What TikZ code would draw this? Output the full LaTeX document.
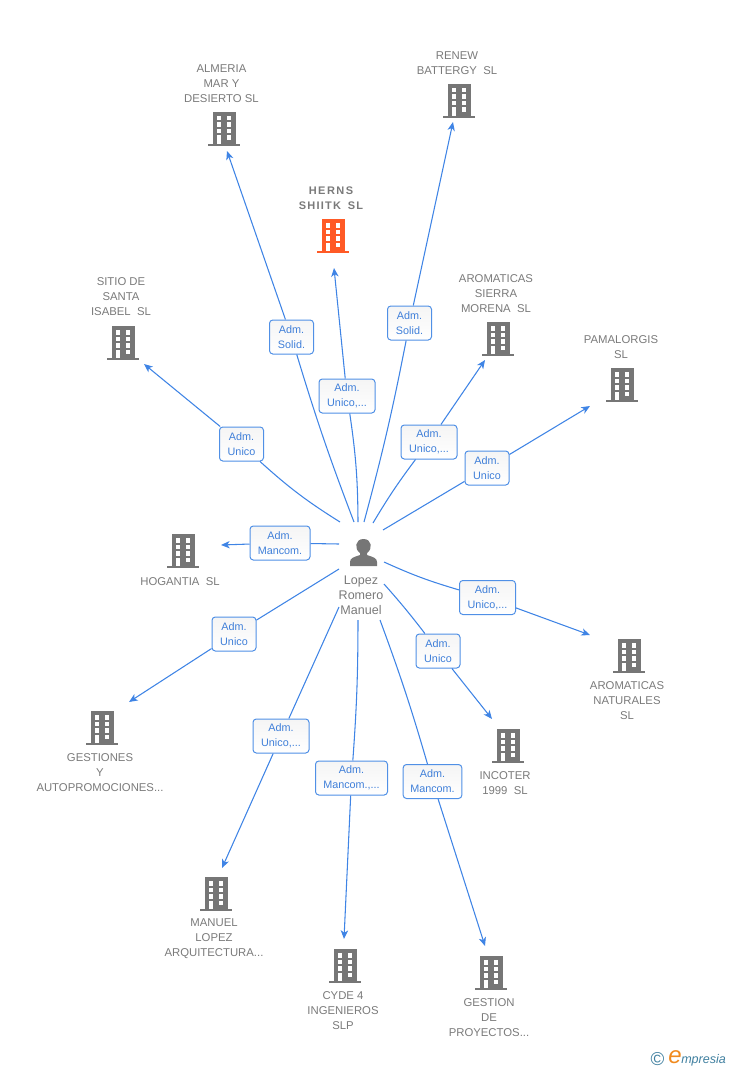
\documentclass[tikz,border=0pt]{standalone}
\usepackage{fontspec}
\setmainfont{Liberation Sans}
\usetikzlibrary{arrows.meta}
\definecolor{bgrey}{HTML}{767676}
\definecolor{tgrey}{HTML}{7A7A7A}
\definecolor{orng}{HTML}{FF5A26}
\definecolor{eblue}{HTML}{3F84E5}
\definecolor{ltxt}{HTML}{3F7FD9}
\definecolor{bbord}{HTML}{5090E6}
\definecolor{lgteal}{HTML}{3F7F9F}
\definecolor{lgor}{HTML}{F08A1E}
\tikzset{
  x=0.75pt,y=-0.75pt,
  bldbox/.style={inner sep=0pt,minimum width=24pt,minimum height=25.5pt},
  lab/.style={font=\fontsize{8.5pt}{11.25pt}\selectfont,text=tgrey,align=center,inner sep=0pt},
  adm/.style={draw=bbord,line width=0.75pt,rounded corners=2.5pt,top color=gray!8,bottom color=white,
    font=\fontsize{8.1pt}{11.25pt}\selectfont,text=ltxt,align=center,inner sep=0pt,minimum height=25.5pt},
  edge/.style={draw=eblue,line width=0.8pt},
  arr/.style={edge,-{Stealth[length=6.5pt,width=5.5pt,inset=1.8pt]}},
}
\newcommand{\bld}[4]{%
  \node[bldbox] (#1) at (#2,#3) {};
  \begin{scope}[shift={(#2,#3)}]
    \fill[#4] (-11.5,-17) rectangle (11.5,15);
    \fill[#4] (-16,15) rectangle (16,17);
    \foreach \yy in {-13,-6.5,0}{
      \fill[white] (-7.5,\yy) rectangle (-3,\yy+4.5);
      \fill[white] (2.5,\yy) rectangle (7,\yy+4.5);
    }
    \fill[white] (-7.5,6.5) rectangle (-3,15);
    \fill[white] (2.5,6.5) rectangle (7,11);
  \end{scope}}
\begin{document}
\begin{tikzpicture}
\useasboundingbox (0,0) rectangle (728,1070);
% buildings
\bld{almeria}{224}{129}{bgrey}
\bld{renew}{459}{101}{bgrey}
\bld{herns}{333}{236}{orng}
\bld{sitio}{123}{343}{bgrey}
\bld{sierra}{498}{339}{bgrey}
\bld{pamal}{622}{385}{bgrey}
\bld{hogan}{183}{551}{bgrey}
\bld{gesti}{102}{728}{bgrey}
\bld{manuel}{216}{894}{bgrey}
\bld{cyde}{345}{966}{bgrey}
\bld{gestp}{491}{973}{bgrey}
\bld{incot}{508}{746}{bgrey}
\bld{natur}{629}{656}{bgrey}
% building labels
\node[lab] (talmeria) at (221.5,84) {ALMERIA\\MAR Y\\DESIERTO SL};
\node[lab] (trenew) at (457,63.5) {RENEW\\BATTERGY\ \ SL};
\node[lab,font=\fontsize{8.25pt}{11.25pt}\selectfont\bfseries] (therns) at (331,198) {H\kern1.1pt E\kern1.1pt R\kern1.1pt N\kern1.1pt S\\S\kern.9pt H\kern.9pt I\kern.9pt I\kern.9pt T\kern.9pt K\ \ \kern.5pt S\kern.9pt L};
\node[lab] (tsitio) at (121,297) {SITIO DE\\SANTA\\ISABEL\ \ SL};
\node[lab] (tsierra) at (496,294) {AROMATICAS\\SIERRA\\MORENA\ \ SL};
\node[lab] (tpamal) at (621,347.5) {PAMALORGIS\\SL};
\node[lab] (thogan) at (180,582) {HOGANTIA\ \ SL};
\node[lab] (tgesti) at (100,773) {GESTIONES\\Y\\AUTOPROMOCIONES...};
\node[lab] (tmanuel) at (214,939) {MANUEL\\LOPEZ\\ARQUITECTURA...};
\node[lab] (tcyde) at (343,1011) {CYDE 4\\INGENIEROS\\SLP};
\node[lab] (tgestp) at (489,1018) {GESTION\\DE\\PROYECTOS...};
\node[lab] (tincot) at (505,783.5) {INCOTER\\1999\ \ SL};
\node[lab] (tnatur) at (627,701) {AROMATICAS\\NATURALES\\SL};
% person
\node[inner sep=0pt,minimum width=21pt,minimum height=21pt] (person) at (363.5,552.5) {};
\fill[bgrey] (350,566) -- (350,562) .. controls (350,558) and (354,557) .. (360,555) -- (360,553)
  .. controls (354,549) and (355,539) .. (363.5,539) .. controls (372,539) and (373,549) .. (367,553)
  -- (367,555) .. controls (373,557) and (377,558) .. (377,562) -- (377,566) -- cycle;
\node[lab,font=\fontsize{9.4pt}{11.25pt}\selectfont] (tperson) at (361,595) {Lopez\\Romero\\Manuel};
% relation labels
\node[adm,minimum width=33pt] (l1) at (291.5,337) {Adm.\ \\Solid.};
\node[adm,minimum width=42pt] (l2) at (347,396) {Adm.\ \\Unico,...};
\node[adm,minimum width=33pt] (l3) at (409.5,323) {Adm.\ \\Solid.};
\node[adm,minimum width=42pt] (l4) at (429,442) {Adm.\ \\Unico,...};
\node[adm,minimum width=33pt] (l5) at (487,468) {Adm.\ \\Unico};
\node[adm,minimum width=33pt] (l6) at (241.5,444) {Adm.\ \\Unico};
\node[adm,minimum width=45pt] (l7) at (280,543) {Adm.\ \\Mancom.};
\node[adm,minimum width=33pt] (l8) at (234,634) {Adm.\ \\Unico};
\node[adm,minimum width=42pt] (l9) at (281,736) {Adm.\ \\Unico,...};
\node[adm,minimum width=54pt] (l10) at (351.5,778) {Adm.\ \\Mancom.,...};
\node[adm,minimum width=44pt] (l11) at (432.5,781.5) {Adm.\ \\Mancom.};
\node[adm,minimum width=33pt] (l12) at (438,651) {Adm.\ \\Unico};
\node[adm,minimum width=42pt] (l13) at (487.5,597.5) {Adm.\ \\Unico,...};
% free ends
\coordinate (s1) at (354,522); \coordinate (e1) at (227,151);
\coordinate (s2) at (358,522); \coordinate (e2) at (334,268);
\coordinate (s3) at (364,522); \coordinate (e3) at (453,122);
\coordinate (s4) at (373,523); \coordinate (e4) at (485,360);
\coordinate (s5) at (383,530); \coordinate (e5) at (590,406);
\coordinate (s6) at (340,522); \coordinate (e6) at (144,364);
\coordinate (s7) at (339,544); \coordinate (e7) at (221,545);
\coordinate (s8) at (339,569); \coordinate (e8) at (129,702);
\coordinate (s9) at (339,607); \coordinate (e9) at (222,868);
\coordinate (s10) at (358,620); \coordinate (e10) at (344,939);
\coordinate (s11) at (380,620); \coordinate (e11) at (485,946);
\coordinate (s12) at (384,584); \coordinate (e12) at (492,719);
\coordinate (s13) at (384,562); \coordinate (e13) at (590,635);
% connectors
\draw[edge] (s1) to[bend left=2] (l1);
\draw[arr] (l1) -- (e1);
\draw[edge] (s2) to[bend right=4] (l2);
\draw[arr] (l2) -- (e2);
\draw[edge] (s3) to[bend right=2] (l3);
\draw[arr] (l3) -- (e3);
\draw[edge] (s4) to[bend left=3] (l4);
\draw[arr] (l4) -- (e4);
\draw[edge] (s5) -- (l5);
\draw[arr] (l5) -- (e5);
\draw[edge] (s6) to[bend left=5] (l6);
\draw[arr] (l6) -- (e6);
\draw[edge] (s7) -- (l7);
\draw[arr] (l7) -- (e7);
\draw[edge] (s8) -- (l8);
\draw[arr] (l8) -- (e8);
\draw[edge] (s9) -- (l9);
\draw[arr] (l9) -- (e9);
\draw[edge] (s10) to[bend left=2] (l10);
\draw[arr] (l10) -- (e10);
\draw[edge] (s11) to[bend left=2] (l11);
\draw[arr] (l11) -- (e11);
\draw[edge] (s12) to[bend left=2] (l12);
\draw[arr] (l12) -- (e12);
\draw[edge] (s13) to[bend right=4] (l13);
\draw[arr] (l13) -- (e13);
% logo
\node[inner sep=0pt,text=lgteal,font=\fontsize{14pt}{14pt}\selectfont] (copyr) at (657.5,1059) {©};
\node[inner sep=0pt,text=lgor,font=\fontsize{18pt}{18pt}\selectfont\itshape] (eorg) at (675,1057) {e};
\node[inner sep=0pt,text=lgteal,font=\fontsize{9.4pt}{9.4pt}\selectfont\itshape,anchor=west] (mpres) at (681,1060) {mpresia};
\end{tikzpicture}
\end{document}
